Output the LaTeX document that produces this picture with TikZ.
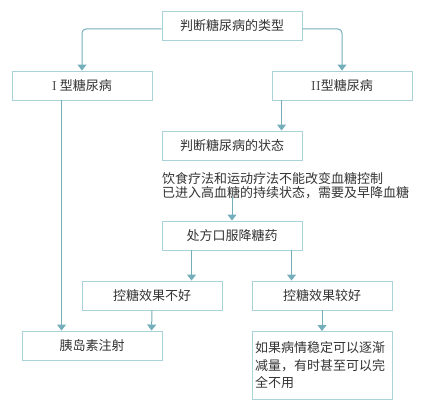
\documentclass[tikz,border=0pt]{standalone}
\usepackage{fontspec}
\newfontfamily\cjk{Noto Sans CJK SC}
\usetikzlibrary{arrows.meta,positioning}
\definecolor{boxline}{HTML}{A9D2D9}
\definecolor{arrowc}{HTML}{74AEBA}
\definecolor{txt}{HTML}{333333}
\tikzset{
  box/.style={draw=boxline,line width=0.9pt,fill=white,minimum width=140pt,minimum height=29pt,inner sep=0pt,font=\cjk\fontsize{13pt}{17pt}\selectfont,text=txt},
  conn/.style={draw=arrowc,line width=1pt,-{Triangle[width=9pt,length=6pt]}},
}
\begin{document}
\begin{tikzpicture}[x=1pt,y=-1pt]
\useasboundingbox (0,0) rectangle (431,401);
\node[box] (top) at (232,25.5) {判断糖尿病的类型};
\node[box] (t1) at (82,85.5) {{\rmfamily I}\hspace{3pt}型糖尿病};
\node[box] (t2) at (342,85.5) {{\rmfamily II}型糖尿病};
\node[box] (state) at (232,145.5) {判断糖尿病的状态};
\node[anchor=north west,inner sep=0pt,align=left,text=txt,font=\cjk\fontsize{13pt}{13.5pt}\selectfont] (desc) at (162,172.5) {饮食疗法和运动疗法不能改变血糖控制\\已进入高血糖的持续状态，需要及早降血糖};
\coordinate (descend) at ([yshift=2pt]desc.south -| 232,0);
\node[box] (rx) at (232,235.5) {处方口服降糖药};
\node[box] (bad) at (152,295.5) {控糖效果不好};
\node[box] (good) at (322,295.5) {控糖效果较好};
\node[box] (ins) at (92,345.5) {胰岛素注射};
\node[box,minimum height=68pt,text width=134pt,align=left,anchor=north,font=\cjk\fontsize{13pt}{17.5pt}\selectfont] (last) at (322,331) {如果病情稳定可以逐渐\\减量，有时甚至可以完\\全不用};
\draw[conn,rounded corners=4pt] ([yshift=-3.5pt]top.west) -| (t1.north);
\draw[conn,rounded corners=4pt] ([yshift=-3.5pt]top.east) -| (t2.north);
\draw[conn] ([xshift=10pt]t2.south west) -- ([xshift=120pt]state.north west);
\draw[conn] (descend) -- (rx.north);
\draw[conn] ([xshift=30pt]rx.south west) -- ([xshift=110pt]bad.north west);
\draw[conn] ([xshift=130pt]rx.south west) -- ([xshift=40pt]good.north west);
\draw[conn] ([xshift=50pt]t1.south west) -- ([xshift=40pt]ins.north west);
\draw[conn] (bad.south) -- ([xshift=130pt]ins.north west);
\draw[conn] (good.south) -- (last.north);
\end{tikzpicture}
\end{document}
